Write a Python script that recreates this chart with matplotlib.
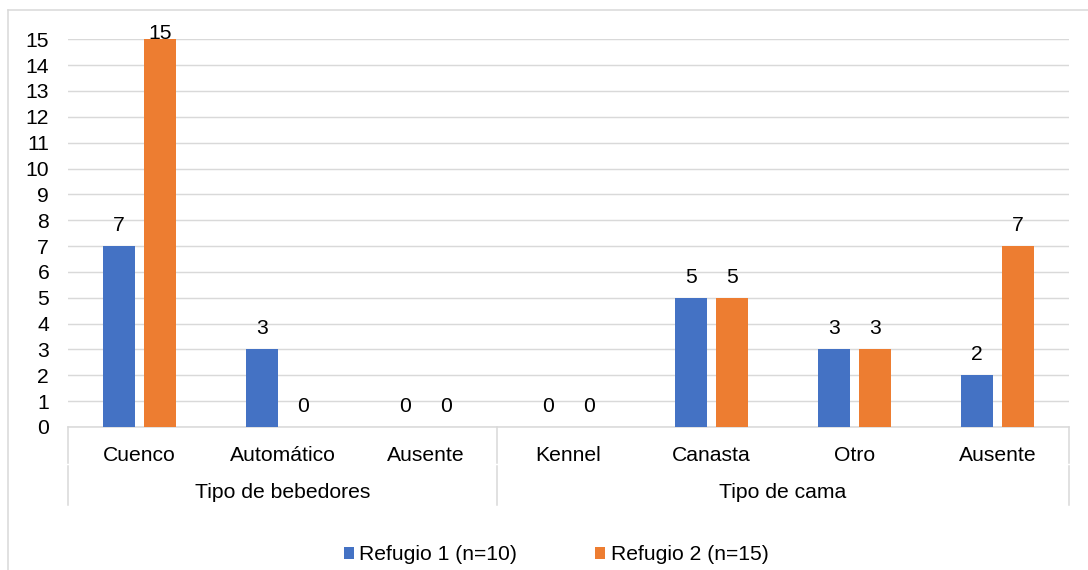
import matplotlib
matplotlib.use("Agg")
import matplotlib.pyplot as plt
from matplotlib.patches import Patch
from matplotlib.lines import Line2D
import matplotlib.transforms as mtrans

plt.rcParams['font.family'] = ['Liberation Sans', 'DejaVu Sans']

categories = ["Cuenco", "Automático", "Ausente", "Kennel", "Canasta", "Otro", "Ausente"]
groups = ["Tipo de bebedores", "Tipo de cama"]
group_sizes = [3, 4]
series_names = ["Refugio 1 (n=10)", "Refugio 2 (n=15)"]
refugio1 = [7, 3, 0, 0, 5, 3, 2]
refugio2 = [15, 0, 0, 0, 5, 3, 7]
colors = ["#4472C4", "#ED7D31"]
yticks = list(range(0, 16))

W, H, DPI = 1088, 570, 100
fig = plt.figure(figsize=(W / DPI, H / DPI), dpi=DPI)
px = 72.0 / DPI  # points per pixel

ax_l, ax_r, ax_b, ax_t = 68, 1069, 427, 39.3
ax = fig.add_axes([ax_l / W, (H - ax_b) / H, (ax_r - ax_l) / W, (ax_b - ax_t) / H])
axh_px = ax_b - ax_t
ymax = 15

fs = 15.2
grid_c = "#D9D9D9"
bw = 0.22
off = 0.142
x = list(range(len(categories)))

for vals, sgn, col in [(refugio1, -1, colors[0]), (refugio2, 1, colors[1])]:
    xs = [i + sgn * off for i in x]
    ax.bar(xs, vals, width=bw, color=col, zorder=3)
    for xi, v in zip(xs, vals):
        # keep labels inside the chart area, as the original does for the tallest bar
        room = (ymax - v) / ymax * axh_px
        dy = min(15, max(0, room))
        ax.annotate(str(v), xy=(xi, v), xytext=(0, dy * px), textcoords='offset points',
                    ha='center', va='baseline', fontsize=fs, color='#000000', zorder=4,
                    annotation_clip=False)

ax.set_xlim(-0.5, len(categories) - 0.5)
ax.set_ylim(0, ymax)
ax.set_yticks(yticks)
ax.yaxis.grid(True, color=grid_c, linewidth=1.05, zorder=0)
ax.set_axisbelow(True)
ax.tick_params(axis='y', length=0, pad=13.5, labelsize=fs, labelcolor='#000000')
ax.set_xticks([])
for s in ['left', 'right', 'top']:
    ax.spines[s].set_visible(False)
ax.spines['bottom'].set_color(grid_c)
ax.spines['bottom'].set_linewidth(1.1)
ax.spines['bottom'].set_zorder(1)

blend = mtrans.blended_transform_factory(ax.transData, ax.transAxes)

# category labels
for i, c in enumerate(categories):
    ax.annotate(c, xy=(i, 0), xycoords=blend, xytext=(0, -34 * px), textcoords='offset points',
                ha='center', va='baseline', fontsize=fs, color='#000000', annotation_clip=False)

# group labels and separators
start = 0
bounds = [-0.5]
for g, n in zip(groups, group_sizes):
    mid = start + (n - 1) / 2.0
    ax.annotate(g, xy=(mid, 0), xycoords=blend, xytext=(0, -71 * px), textcoords='offset points',
                ha='center', va='baseline', fontsize=fs, color='#000000', annotation_clip=False)
    start += n
    bounds.append(start - 0.5)

for b in bounds:
    ax.plot([b, b], [0, -36 / axh_px], transform=blend, color=grid_c, lw=1.1, clip_on=False)
    ax.plot([b, b], [-39 / axh_px, -78 / axh_px], transform=blend, color=grid_c, lw=1.1, clip_on=False)

# legend
handles = [Patch(facecolor=c, edgecolor='none') for c in colors]
fig.legend(handles, series_names, loc='center', bbox_to_anchor=(556 / W, (H - 555) / H),
           ncol=2, frameon=False, fontsize=fs, handlelength=0.48, handleheight=0.48,
           handletextpad=0.25, columnspacing=3.7, borderpad=0, borderaxespad=0)

# outer chart border (partially visible)
fig.add_artist(Line2D([8 / W, 1.0], [(H - 10) / H, (H - 10) / H], color=grid_c, lw=1.1))
fig.add_artist(Line2D([8 / W, 8 / W], [0, (H - 10) / H], color=grid_c, lw=1.1))

fig.savefig("out.png", dpi=DPI, facecolor='white')
